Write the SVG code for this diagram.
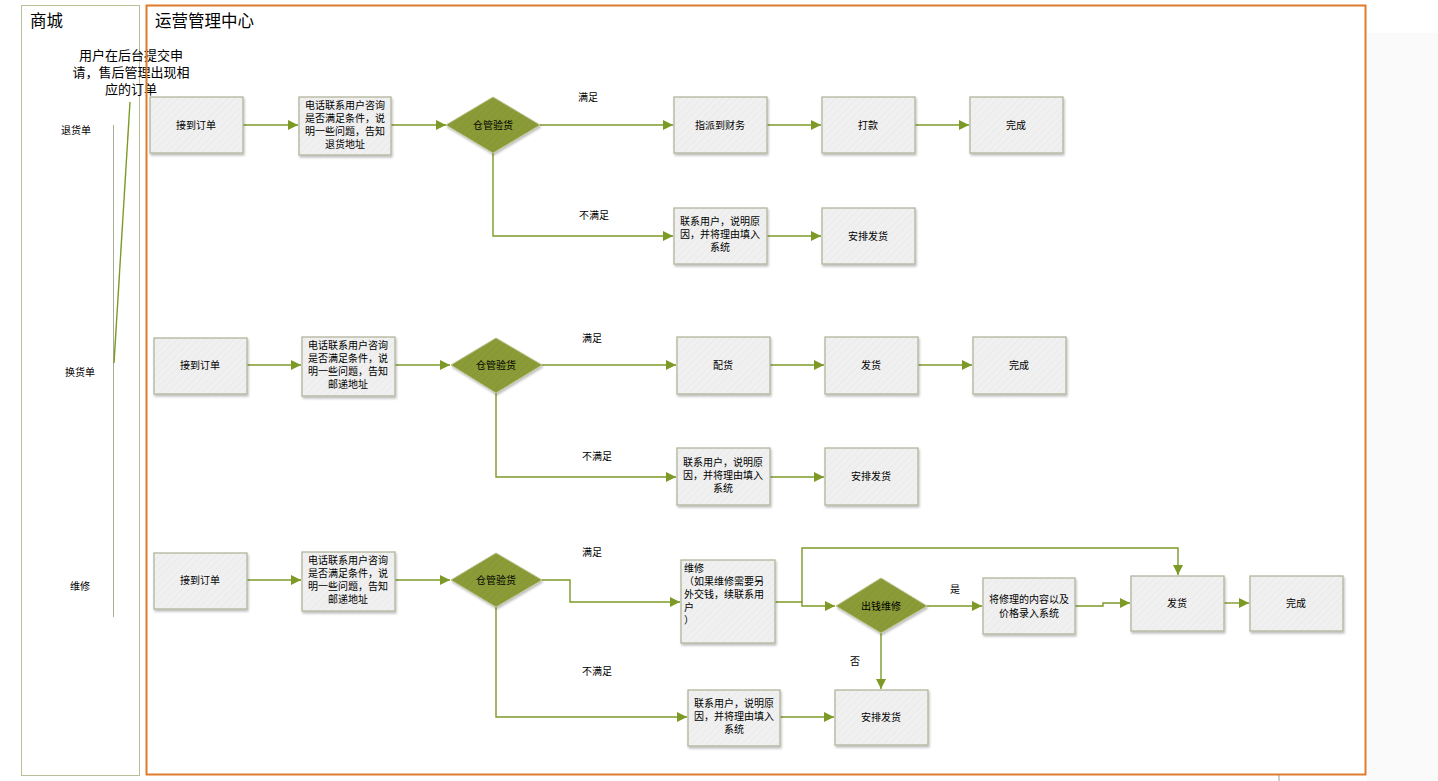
<svg xmlns="http://www.w3.org/2000/svg" width="1438" height="781" viewBox="0 0 1438 781">
  <style>
    text { font-family: "Liberation Sans", "Noto Sans CJK SC", sans-serif; fill: #000; }
    .t { font-size: 10px; text-anchor: middle; }
    .tl { font-size: 10px; }
    .lbl { font-size: 10px; }
    .title { font-size: 16.5px; }
    .box { fill: url(#hatch); stroke: #b3b59b; stroke-width: 1.3; filter: url(#shadow); }
    .dia { fill: url(#hatchG); stroke: #b8c28a; stroke-width: 1; filter: url(#shadow); }
    .edge { fill: none; stroke: #7d9a26; stroke-width: 1.4; }
  </style>
  <defs>
    <pattern id="hatch" width="5" height="5" patternUnits="userSpaceOnUse" patternTransform="rotate(45)">
      <rect width="5" height="5" fill="#f0f0f0"/>
      <line x1="0" y1="0" x2="0" y2="5" stroke="#e9e9e9" stroke-width="1.5"/>
    </pattern>
    <pattern id="hatchG" width="5" height="5" patternUnits="userSpaceOnUse" patternTransform="rotate(45)">
      <rect width="5" height="5" fill="#8a9b37"/>
      <line x1="0" y1="0" x2="0" y2="5" stroke="#849433" stroke-width="1.5"/>
    </pattern>
    <filter id="shadow" x="-10%" y="-10%" width="130%" height="130%">
      <feDropShadow dx="1" dy="2" stdDeviation="1.2" flood-color="#000" flood-opacity="0.25"/>
    </filter>
    <marker id="arr" viewBox="0 0 10 10" refX="10" refY="5" markerWidth="10" markerHeight="10" markerUnits="userSpaceOnUse" orient="auto">
      <path d="M0,0 L10,5 L0,10 z" fill="#7d9a26"/>
    </marker>
  </defs>

  <!-- page background strip -->
  <rect x="1367" y="33" width="71" height="748" fill="#fafafa"/>
  <line x1="1279" y1="775" x2="1279" y2="781" stroke="#999" stroke-width="1"/>

  <!-- swimlanes -->
  <g id="lane-mall">
    <rect x="21.5" y="5.5" width="118" height="770" fill="#fff" stroke="#b9bf98" stroke-width="1"/>
    <text class="title" x="30" y="27">商城</text>
    <text x="131" y="60" font-size="13" text-anchor="middle">用户在后台提交申</text>
    <text x="131" y="77" font-size="13" text-anchor="middle">请，售后管理出现相</text>
    <text x="131" y="94" font-size="13" text-anchor="middle">应的订单</text>
    <line x1="113.5" y1="125" x2="113.5" y2="617" stroke="#a9ab9a" stroke-width="1"/>
    <line x1="130" y1="102" x2="114" y2="363" stroke="#7d9a26" stroke-width="1.4"/>
    <text class="lbl" x="76" y="134" text-anchor="middle">退货单</text>
    <text class="lbl" x="80" y="376" text-anchor="middle">换货单</text>
    <text class="lbl" x="80" y="590" text-anchor="middle">维修</text>
  </g>
  <g id="lane-ops">
    <rect x="146.5" y="5.5" width="1219" height="769" fill="none" stroke="#e07b2b" stroke-width="2"/>
    <text class="title" x="155" y="27">运营管理中心</text>
  </g>

  <!-- connectors -->
  <g id="connectors">
    <!-- return flow -->
    <path class="edge" d="M243,125 H298" marker-end="url(#arr)"/>
    <path class="edge" d="M391,125 H446" marker-end="url(#arr)"/>
    <path class="edge" d="M540,125 H673" marker-end="url(#arr)"/>
    <path class="edge" d="M767,125 H821" marker-end="url(#arr)"/>
    <path class="edge" d="M915,125 H969" marker-end="url(#arr)"/>
    <path class="edge" d="M493,153 V236 H673" marker-end="url(#arr)"/>
    <path class="edge" d="M767,236 H821" marker-end="url(#arr)"/>
    <!-- exchange flow -->
    <path class="edge" d="M247,365 H301" marker-end="url(#arr)"/>
    <path class="edge" d="M395,365 H450" marker-end="url(#arr)"/>
    <path class="edge" d="M542,365 H676" marker-end="url(#arr)"/>
    <path class="edge" d="M770,365 H824" marker-end="url(#arr)"/>
    <path class="edge" d="M918,365 H972" marker-end="url(#arr)"/>
    <path class="edge" d="M496,393 V477 H676" marker-end="url(#arr)"/>
    <path class="edge" d="M770,477 H824" marker-end="url(#arr)"/>
    <!-- repair flow -->
    <path class="edge" d="M247,580 H301" marker-end="url(#arr)"/>
    <path class="edge" d="M395,580 H450" marker-end="url(#arr)"/>
    <path class="edge" d="M542,580 H570 V602 H680" marker-end="url(#arr)"/>
    <path class="edge" d="M775,602 H802 V606 H835" marker-end="url(#arr)"/>
    <path class="edge" d="M802,602 V548 H1178 V575" marker-end="url(#arr)"/>
    <path class="edge" d="M927,606 H982" marker-end="url(#arr)"/>
    <path class="edge" d="M1075,606 H1103 V603 H1130" marker-end="url(#arr)"/>
    <path class="edge" d="M1224,603 H1249" marker-end="url(#arr)"/>
    <path class="edge" d="M881,633 V689" marker-end="url(#arr)"/>
    <path class="edge" d="M496,607 V717 H687" marker-end="url(#arr)"/>
    <path class="edge" d="M780,717 H834" marker-end="url(#arr)"/>
    <!-- edge labels -->
    <text class="lbl" x="578" y="101">满足</text>
    <text class="lbl" x="579" y="219">不满足</text>
    <text class="lbl" x="582" y="342">满足</text>
    <text class="lbl" x="582" y="460">不满足</text>
    <text class="lbl" x="582" y="556">满足</text>
    <text class="lbl" x="582" y="675">不满足</text>
    <text class="lbl" x="950" y="593">是</text>
    <text class="lbl" x="850" y="665">否</text>
  </g>

  <!-- return order row -->
  <g id="r1-receive"><rect class="box" x="150" y="97" width="93" height="56"/><text class="t" x="196" y="129">接到订单</text></g>
  <g id="r1-call"><rect class="box" x="299" y="97" width="92" height="58"/>
    <text class="t" x="345" y="109">电话联系用户咨询</text><text class="t" x="345" y="122">是否满足条件，说</text><text class="t" x="345" y="135">明一些问题，告知</text><text class="t" x="345" y="148">退货地址</text></g>
  <g id="r1-check"><polygon class="dia" points="493,97 540,125 493,153 446,125"/><text class="t" x="493" y="129">仓管验货</text></g>
  <g id="r1-finance"><rect class="box" x="674" y="97" width="93" height="56"/><text class="t" x="720" y="129">指派到财务</text></g>
  <g id="r1-pay"><rect class="box" x="822" y="97" width="93" height="56"/><text class="t" x="868" y="129">打款</text></g>
  <g id="r1-done"><rect class="box" x="970" y="97" width="93" height="56"/><text class="t" x="1016" y="129">完成</text></g>
  <g id="r1-contact"><rect class="box" x="674" y="208" width="93" height="56"/>
    <text class="t" x="720" y="225">联系用户，说明原</text><text class="t" x="720" y="238">因，并将理由填入</text><text class="t" x="720" y="251">系统</text></g>
  <g id="r1-ship"><rect class="box" x="822" y="208" width="93" height="56"/><text class="t" x="868" y="240">安排发货</text></g>

  <!-- exchange order row -->
  <g id="r2-receive"><rect class="box" x="154" y="338" width="93" height="56"/><text class="t" x="200" y="369">接到订单</text></g>
  <g id="r2-call"><rect class="box" x="302" y="337" width="93" height="59"/>
    <text class="t" x="348" y="349">电话联系用户咨询</text><text class="t" x="348" y="362">是否满足条件，说</text><text class="t" x="348" y="375">明一些问题，告知</text><text class="t" x="348" y="388">邮递地址</text></g>
  <g id="r2-check"><polygon class="dia" points="496,338 542,365 496,393 451,365"/><text class="t" x="496" y="369">仓管验货</text></g>
  <g id="r2-pick"><rect class="box" x="677" y="337" width="93" height="57"/><text class="t" x="723" y="369">配货</text></g>
  <g id="r2-ship"><rect class="box" x="825" y="337" width="93" height="57"/><text class="t" x="871" y="369">发货</text></g>
  <g id="r2-done"><rect class="box" x="973" y="337" width="93" height="57"/><text class="t" x="1019" y="369">完成</text></g>
  <g id="r2-contact"><rect class="box" x="677" y="448" width="93" height="57"/>
    <text class="t" x="723" y="466">联系用户，说明原</text><text class="t" x="723" y="479">因，并将理由填入</text><text class="t" x="723" y="492">系统</text></g>
  <g id="r2-arrange"><rect class="box" x="825" y="448" width="93" height="57"/><text class="t" x="871" y="480">安排发货</text></g>

  <!-- repair row -->
  <g id="r3-receive"><rect class="box" x="154" y="553" width="93" height="56"/><text class="t" x="200" y="584">接到订单</text></g>
  <g id="r3-call"><rect class="box" x="302" y="552" width="93" height="59"/>
    <text class="t" x="348" y="564">电话联系用户咨询</text><text class="t" x="348" y="577">是否满足条件，说</text><text class="t" x="348" y="590">明一些问题，告知</text><text class="t" x="348" y="603">邮递地址</text></g>
  <g id="r3-check"><polygon class="dia" points="496,553 542,580 496,607 451,580"/><text class="t" x="496" y="584">仓管验货</text></g>
  <g id="r3-repair"><rect class="box" x="681" y="560" width="94" height="83"/>
    <text class="tl" x="684" y="572">维修</text><text class="tl" x="684" y="585">（如果维修需要另</text><text class="tl" x="684" y="598">外交钱，续联系用</text><text class="tl" x="684" y="611">户</text><text class="tl" x="684" y="624">）</text></g>
  <g id="r3-paid"><polygon class="dia" points="881,578 927,606 881,633 836,606"/><text class="t" x="881" y="610">出钱维修</text></g>
  <g id="r3-record"><rect class="box" x="983" y="578" width="92" height="56"/>
    <text class="t" x="1029" y="603">将修理的内容以及</text><text class="t" x="1029" y="617">价格录入系统</text></g>
  <g id="r3-ship"><rect class="box" x="1131" y="576" width="93" height="55"/><text class="t" x="1177" y="607">发货</text></g>
  <g id="r3-done"><rect class="box" x="1250" y="576" width="93" height="55"/><text class="t" x="1296" y="607">完成</text></g>
  <g id="r3-contact"><rect class="box" x="688" y="690" width="92" height="56"/>
    <text class="t" x="734" y="707">联系用户，说明原</text><text class="t" x="734" y="720">因，并将理由填入</text><text class="t" x="734" y="733">系统</text></g>
  <g id="r3-arrange"><rect class="box" x="835" y="690" width="93" height="55"/><text class="t" x="881" y="721">安排发货</text></g>
</svg>
